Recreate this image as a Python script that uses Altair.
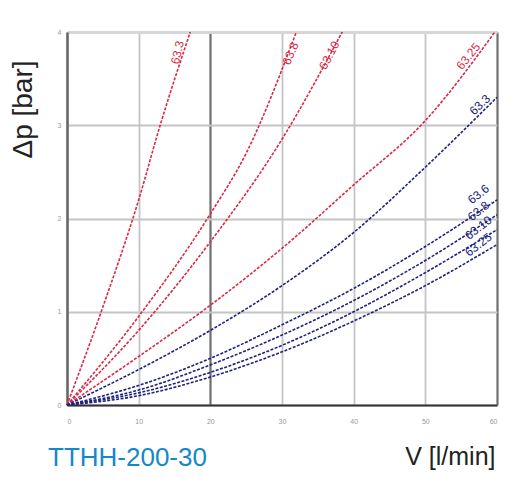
import altair as alt
import pandas as pd

# ---- data ----
series_names = ["r1", "r2", "r3", "r4", "b5", "b6", "b7", "b8", "b9"]
series_group = ["red", "red", "red", "red", "blue", "blue", "blue", "blue", "blue"]

r1_x = [0, 5, 10, 13, 17.2]
r1_y = [0, 1.05, 2.2, 3.0, 4.0]
r2_x = [0, 10, 20, 25, 32]
r2_y = [0, 0.95, 2.05, 2.7, 4.0]
r3_x = [0, 10, 20, 30, 38.4]
r3_y = [0, 0.8, 1.75, 2.85, 4.0]
r4_x = [0, 10, 20, 30, 40, 50, 59.7]
r4_y = [0, 0.52, 1.07, 1.68, 2.36, 3.05, 4.0]
b_x = [0, 10, 20, 30, 40, 50, 60]
b5_y = [0, 0.38, 0.8, 1.28, 1.85, 2.55, 3.3]
b6_y = [0, 0.21, 0.50, 0.86, 1.25, 1.7, 2.2]
b7_y = [0, 0.16, 0.43, 0.75, 1.12, 1.55, 2.04]
b8_y = [0, 0.13, 0.35, 0.64, 1.0, 1.42, 1.88]
b9_y = [0, 0.10, 0.30, 0.57, 0.9, 1.28, 1.72]

label_text = ["63.3", "63.8", "63.10", "63.25", "63.3", "63.6", "63.8", "63.10", "63.25"]
label_x = [15.4, 31.2, 36.6, 56.0, 57.6, 57.4, 57.4, 57.4, 57.4]
label_y = [3.78, 3.77, 3.75, 3.74, 3.22, 2.26, 2.08, 1.9, 1.72]

x_ticks = [0, 10, 20, 30, 40, 50, 60]
y_ticks = [0, 1, 2, 3, 4]
caption = ["TTHH-200-30"]

# ---- styles ----
colors = {"red": "#d92a45", "blue": "#20237e"}
label_angles = [283, 293, 298, 309, 316, 322, 322, 322, 322]

xs = [r1_x, r2_x, r3_x, r4_x, b_x, b_x, b_x, b_x, b_x]
ys = [r1_y, r2_y, r3_y, r4_y, b5_y, b6_y, b7_y, b8_y, b9_y]

FONT = "Liberation Sans"

x_scale = alt.Scale(domain=[0, 60], nice=False, zero=False)
y_scale = alt.Scale(domain=[0, 4], nice=False, zero=False)

x_axis = alt.Axis(
    values=x_ticks, format="d", title="V [l/min]", titleFont=FONT, titleFontSize=25,
    titleFontWeight="normal", titleColor="#222", titleX=428, titleY=51,
    titleAlign="right", titleBaseline="middle", titleAnchor="end",
    labelFont=FONT, labelFontSize=7, labelColor="#999", labelPadding=12,
    ticks=False, domainColor="#333", domainWidth=2,
    gridColor={"condition": {"test": "datum.value === 20 || datum.value === 60", "value": "#6e6e6e"}, "value": "#c4c4c4"},
    gridWidth={"condition": {"test": "datum.value === 20 || datum.value === 60", "value": 2.2}, "value": 1.8},
)
y_axis = alt.Axis(
    values=y_ticks, format="d", title="Δp [bar]", titleFont=FONT, titleFontSize=28,
    titleFontWeight="normal", titleColor="#222", titleX=-44, titleY=77,
    titleAlign="center", titleBaseline="middle", titleAngle=270,
    labelFont=FONT, labelFontSize=7, labelColor="#999", labelPadding=6,
    ticks=False, domainColor="#666", domainWidth=2.5,
    gridColor={"condition": {"test": "datum.value === 4", "value": "#d6d6d6"}, "value": "#c4c4c4"},
    gridWidth={"condition": {"test": "datum.value === 4", "value": 3}, "value": 1.8},
)

layers = []
first = True
for i, name in enumerate(series_names):
    df = pd.DataFrame({"x": xs[i], "y": ys[i]})
    col = colors[series_group[i]]
    if first:
        xe = alt.X("x:Q", scale=x_scale, axis=x_axis)
        ye = alt.Y("y:Q", scale=y_scale, axis=y_axis)
        first = False
    else:
        xe = alt.X("x:Q", scale=x_scale)
        ye = alt.Y("y:Q", scale=y_scale)
    line = alt.Chart(df).mark_line(
        color=col, strokeWidth=1.6, strokeDash=[3, 1.5], interpolate="monotone"
    ).encode(x=xe, y=ye)
    layers.append(line)
    ldf = pd.DataFrame({"x": [label_x[i]], "y": [label_y[i]], "t": [label_text[i]]})
    txt = alt.Chart(ldf).mark_text(
        color=col, font=FONT, fontSize=12, angle=label_angles[i], align="center", baseline="middle"
    ).encode(x=alt.X("x:Q", scale=x_scale), y=alt.Y("y:Q", scale=y_scale), text="t:N")
    layers.append(txt)

cap = alt.Chart(pd.DataFrame({"t": caption})).mark_text(
    color="#1588c8", font=FONT, fontSize=26, align="left", baseline="middle"
).encode(x=alt.value(-19), y=alt.value(426), text="t:N")
layers.append(cap)

chart = alt.layer(*layers).properties(
    width=430, height=373,
    autosize=alt.AutoSizeParams(type="none"),
    padding={"left": 59, "top": 24, "right": 8, "bottom": 66},
).configure_view(strokeWidth=0).configure(background="white")

chart.save("out.html", embed_options={"renderer": "svg", "actions": False})
